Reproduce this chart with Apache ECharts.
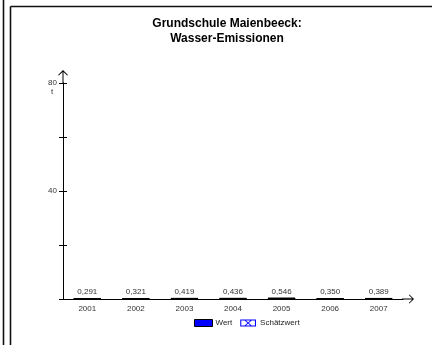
<!DOCTYPE html>
<html><head><meta charset="utf-8">
<script src="https://cdn.jsdelivr.net/npm/echarts@6/dist/echarts.min.js"></script>
<style>html,body{margin:0;padding:0;background:#fff}#c{width:432px;height:345px}</style>
</head><body><div id="c"></div>
<script>
var categories = ['2001','2002','2003','2004','2005','2006','2007'];
var wert = [0.291, 0.321, 0.419, 0.436, 0.546, 0.350, 0.389];
var schaetzwert = [null, null, null, null, null, null, null];
var yLabels = [40, 80];

var arrowUp = 'path://M5,0 L10,5 L9.2,5.6 L5.5,1.9 L5.5,13 L4.5,13 L4.5,1.9 L0.8,5.6 L0,5 Z';
var xIcon = 'path://M0,0 L18,0 L18,8 L0,8 Z M1.2,6.8 L16.8,6.8 L16.8,1.2 L1.2,1.2 Z M5,1.2 L6.5,1.2 L9,3.3 L11.5,1.2 L13,1.2 L9.8,4 L13,6.8 L11.5,6.8 L9,4.7 L6.5,6.8 L5,6.8 L8.2,4 Z';

var chart = echarts.init(document.getElementById('c'));
var font = 'Liberation Sans, Arial, sans-serif';
chart.setOption({
  animation: false,
  title: {
    text: 'Grundschule Maienbeeck:\nWasser-Emissionen',
    left: 222, top: 11, textAlign: 'center',
    textStyle: {fontFamily: font, fontSize: 12, fontWeight: 'bold', color: '#000', lineHeight: 15}
  },
  legend: {
    left: 189, top: 314, itemWidth: 18, itemHeight: 7, itemGap: 8,
    textStyle: {fontFamily: font, fontSize: 8, color: '#222', padding: [0,0,0,-2]},
    data: [
      {name: 'Wert', icon: 'rect', itemStyle: {color: '#0000ff', borderColor: '#000', borderWidth: 1}},
      {name: 'Schätzwert', icon: xIcon, itemStyle: {color: '#0000ff', borderWidth: 0}}
    ]
  },
  grid: {left: 63, right: 29, top: 83, bottom: 46},
  xAxis: {
    type: 'category', data: categories,
    axisLine: {lineStyle: {color: '#000', width: 1}, symbol: ['none', arrowUp], symbolSize: [10, 12], symbolOffset: [0, 5]},
    axisTick: {alignWithLabel: true, length: 4, lineStyle: {color: '#000'}},
    axisLabel: {fontFamily: font, fontSize: 8, color: '#333', margin: 6}
  },
  yAxis: [{
    type: 'value', min: 0, max: 80, interval: 20,
    splitLine: {show: false},
    axisLine: {show: true, lineStyle: {color: '#000', width: 1}, symbol: ['none', arrowUp], symbolSize: [10, 14], symbolOffset: [0, 6.5]},
    axisTick: {show: true, length: 4, lineStyle: {color: '#000'}},
    axisLabel: {fontFamily: font, fontSize: 8, color: '#333', margin: 6,
      formatter: function(v){ return yLabels.indexOf(v) >= 0 ? String(v) : ''; }}
  }, {
    type: 'value', min: 0, max: 80, interval: 20, position: 'left', offset: 0,
    splitLine: {show: false},
    axisLine: {show: true, lineStyle: {color: '#000', width: 1}},
    axisTick: {show: true, inside: true, length: 4, lineStyle: {color: '#000'}},
    axisLabel: {show: false}
  }],
  series: [{
    name: 'Wert', type: 'bar', data: wert, barWidth: 28,
    itemStyle: {color: '#0000ff', borderColor: '#000', borderWidth: 1},
    label: {show: true, position: 'top', distance: 2, fontFamily: font, fontSize: 8, color: '#333',
      formatter: function(p){ return p.value.toFixed(3).replace('.', ','); }}
  }, {
    name: 'Schätzwert', type: 'bar', data: schaetzwert, barWidth: 28, barGap: '-100%',
    itemStyle: {color: '#fff', borderColor: '#0000ff', borderWidth: 1}
  }],
  graphic: [
    {type: 'line', shape: {x1: 3.5, y1: 0, x2: 3.5, y2: 345}, style: {stroke: '#111', lineWidth: 1.6}},
    {type: 'line', shape: {x1: 10.5, y1: 6.5, x2: 10.5, y2: 345}, style: {stroke: '#111', lineWidth: 1.6}},
    {type: 'line', shape: {x1: 10.5, y1: 6.5, x2: 432, y2: 6.5}, style: {stroke: '#111', lineWidth: 1.6}},
    {type: 'text', left: 51, top: 88, style: {text: 't', font: '8px ' + font, fill: '#333'}}
  ]
});
</script></body></html>
